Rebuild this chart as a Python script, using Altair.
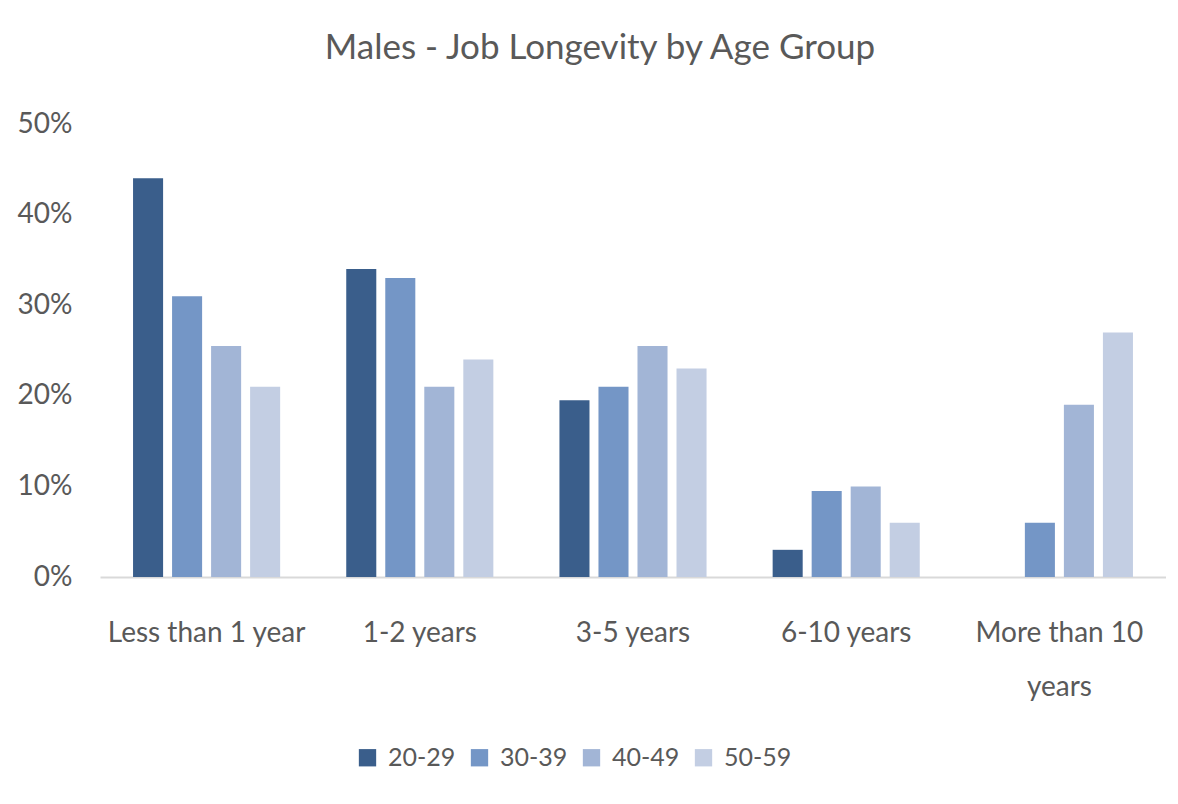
import altair as alt
import pandas as pd

categories = ["Less than 1 year", "1-2 years", "3-5 years", "6-10 years", "More than 10 years"]
age_groups = ["20-29", "30-39", "40-49", "50-59"]
v_20_29 = [0.44, 0.34, 0.195, 0.03, 0.0]
v_30_39 = [0.31, 0.33, 0.21, 0.095, 0.06]
v_40_49 = [0.255, 0.21, 0.255, 0.10, 0.19]
v_50_59 = [0.21, 0.24, 0.23, 0.06, 0.27]
colors = ["#3A5E8B", "#7496C6", "#A2B5D6", "#C3CEE3"]
y_ticks = [0, 0.1, 0.2, 0.3, 0.4, 0.5]

series = [v_20_29, v_30_39, v_40_49, v_50_59]
rows = []
for age, vals in zip(age_groups, series):
    for cat, v in zip(categories, vals):
        rows.append({"category": cat, "age": age, "value": v})
df = pd.DataFrame(rows)

FONT = "Lato"
TXT = "#595959"

chart = alt.Chart(df).mark_bar().encode(
    x=alt.X(
        "category:N",
        sort=categories,
        scale=alt.Scale(paddingInner=0.31, paddingOuter=0.155),
        axis=alt.Axis(
            title=None, labelAngle=0, ticks=False, tickSize=0,
            domainColor="#d9d9d9", domainWidth=2,
            labelFont=FONT, labelFontSize=28, labelColor=TXT,
            labelPadding=42, labelLimit=400, labelLineHeight=54,
            labelExpr="datum.value == 'More than 10 years' ? ['More than 10', 'years'] : datum.value",
        ),
    ),
    xOffset=alt.XOffset("age:N", sort=age_groups, scale=alt.Scale(paddingInner=0.23, paddingOuter=0)),
    y=alt.Y(
        "value:Q",
        scale=alt.Scale(domain=[0, 0.5], nice=False),
        axis=alt.Axis(
            title=None, format=".0%", values=y_ticks, grid=False, domain=False,
            ticks=False, tickSize=0, labelFont=FONT, labelFontSize=28,
            labelColor=TXT, labelPadding=28,
        ),
    ),
    color=alt.Color(
        "age:N",
        sort=age_groups,
        scale=alt.Scale(domain=age_groups, range=colors),
        legend=alt.Legend(
            orient="none", legendX=255, legendY=621, direction="horizontal",
            title=None, symbolType="square", symbolSize=300, symbolStrokeWidth=0,
            labelFont=FONT, labelFontSize=25, labelColor=TXT,
            columnPadding=11, labelOffset=8,
        ),
    ),
).properties(
    width=1066,
    height=453,
    title=alt.TitleParams(
        "Males - Job Longevity by Age Group",
        font=FONT, fontSize=35, color=TXT, fontWeight="normal",
        anchor="middle", offset=44, dx=-33,
    ),
    autosize=alt.AutoSizeParams(type="none"),
    padding={"left": 92, "top": 116, "right": 0, "bottom": 210},
).configure(background="white").configure_view(stroke=None, strokeWidth=0)

chart.save("out.html", embed_options={"renderer": "svg", "actions": False})
